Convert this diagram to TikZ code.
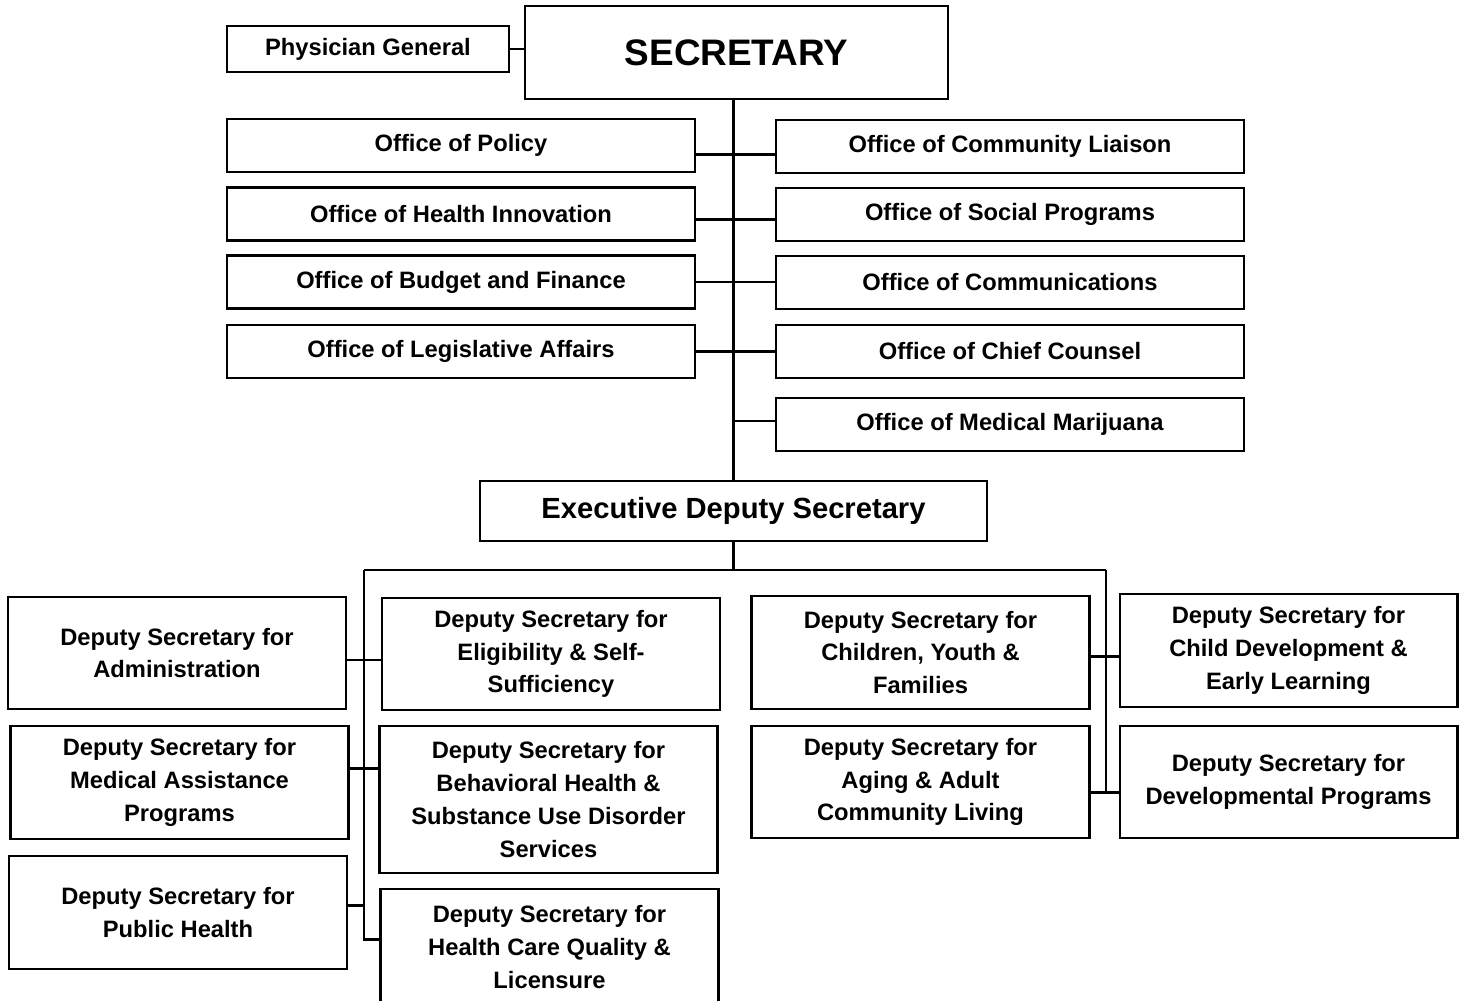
\documentclass[tikz,border=0pt]{standalone}
\usepackage{fontspec}
\setmainfont{Liberation Sans}
\usetikzlibrary{positioning,calc}
\tikzstyle{block} = [draw, line width=1.2pt, rectangle, inner sep=0pt,
    align=center, font=\bfseries\fontsize{13.5}{18.7}\selectfont]
\tikzstyle{office} = [block, minimum width=9.36cm, minimum height=1.06cm]
\tikzstyle{deputy} = [block, minimum width=6.76cm, minimum height=2.25cm]
\tikzstyle{link} = [line width=1.6pt]

\begin{document}
\begin{tikzpicture}[x=0.02cm, y=-0.02cm]
    \useasboundingbox (0,0) rectangle (1462,1000);

    % We start by placing the blocks
    \node [block, minimum width=8.46cm, minimum height=1.86cm,
        font=\bfseries\fontsize{21}{25}\selectfont] (sec) at (736.5,52.5) {SECRETARY};
    \node [block, minimum width=5.64cm, minimum height=0.92cm] (phys) at (368,49) {Physician General};

    \node [office] (pol)   at (461,145.5) {Office of Policy};
    \node [office] (hinn)  at (461,214)   {Office of Health Innovation};
    \node [office] (bud)   at (461,282)   {Office of Budget and Finance};
    \node [office] (leg)   at (461,351.5) {Office of Legislative Affairs};
    \node [office] (comm)  at (1010,146.5) {Office of Community Liaison};
    \node [office] (soc)   at (1010,214.5) {Office of Social Programs};
    \node [office] (cmns)  at (1010,282.5) {Office of Communications};
    \node [office] (chief) at (1010,351.5) {Office of Chief Counsel};
    \node [office] (mmj)   at (1010,424.5) {Office of Medical Marijuana};

    \node [block, minimum width=10.14cm, minimum height=1.2cm,
        font=\bfseries\fontsize{16.6}{20}\selectfont] (eds) at (733.5,511) {Executive Deputy Secretary};

    \node [deputy] (admin) at (177,653)   {Deputy Secretary for\\Administration};
    \node [deputy] (elig)  at (551,654)   {Deputy Secretary for\\Eligibility \& Self-\\Sufficiency};
    \node [deputy] (med)   at (179.5,782.5) {Deputy Secretary for\\Medical Assistance\\Programs};
    \node [deputy, minimum height=2.94cm] (beh) at (548.5,799.5) {Deputy Secretary for\\Behavioral Health \&\\Substance Use Disorder\\Services};
    \node [deputy] (ph)    at (178,912.5) {Deputy Secretary for\\Public Health};
    \node [deputy, minimum height=2.32cm] (hcq) at (549.5,947) {Deputy Secretary for\\Health Care Quality \&\\Licensure};
    \node [deputy] (cyf)   at (920.5,652.5) {Deputy Secretary for\\Children, Youth \&\\Families};
    \node [deputy] (cdel)  at (1288.5,650.5) {Deputy Secretary for\\Child Development \&\\Early Learning};
    \node [deputy] (aging) at (920.5,782) {Deputy Secretary for\\Aging \& Adult\\Community Living};
    \node [deputy] (dev)   at (1288.5,782) {Deputy Secretary for\\Developmental Programs};

    % Once the nodes are placed, connecting them is easy.
    \draw [link] (phys.east) -- (phys.east -| sec.west);
    \draw [link] (eds.north) -- (eds.north |- sec.south);
    \draw [link] ([yshift=-5pt]pol.east) -- ([yshift=-5pt]pol.east -| comm.west);
    \draw [link] ([yshift=-3pt]hinn.east) -- ([yshift=-3pt]hinn.east -| soc.west);
    \draw [link] (bud.east) -- (bud.east -| cmns.west);
    \draw [link] (leg.east) -- (leg.east -| chief.west);
    \draw [link] ([yshift=2pt]mmj.west) -- ([yshift=2pt]mmj.west -| eds.north);

    % the two buses under the executive deputy
    \coordinate (busL) at (364,570);
    \coordinate (busR) at (1106,570);
    \draw [link] (eds.south) -- (eds.south |- busL);
    \draw [link] (busL) -- (busR);

    \coordinate (hcqIn) at ([yshift=4.5pt]hcq.west);
    \draw [link] (busL) |- (hcqIn);
    \draw [link] ([yshift=-4pt]admin.east) -- ([yshift=-4pt]admin.east -| elig.west);
    \draw [link] ([yshift=8pt]med.east) -- ([yshift=8pt]med.east -| beh.west);
    \draw [link] ([yshift=4pt]ph.east) -- ([yshift=4pt]ph.east -| busL);

    \coordinate (devIn) at ([yshift=-6pt]dev.west);
    \draw [link] (busR) |- (devIn);
    \draw [link] ([yshift=-6pt]aging.east) -- (devIn);
    \draw [link] ([yshift=-2.5pt]cyf.east) -- ([yshift=-2.5pt]cyf.east -| cdel.west);
\end{tikzpicture}
\end{document}
